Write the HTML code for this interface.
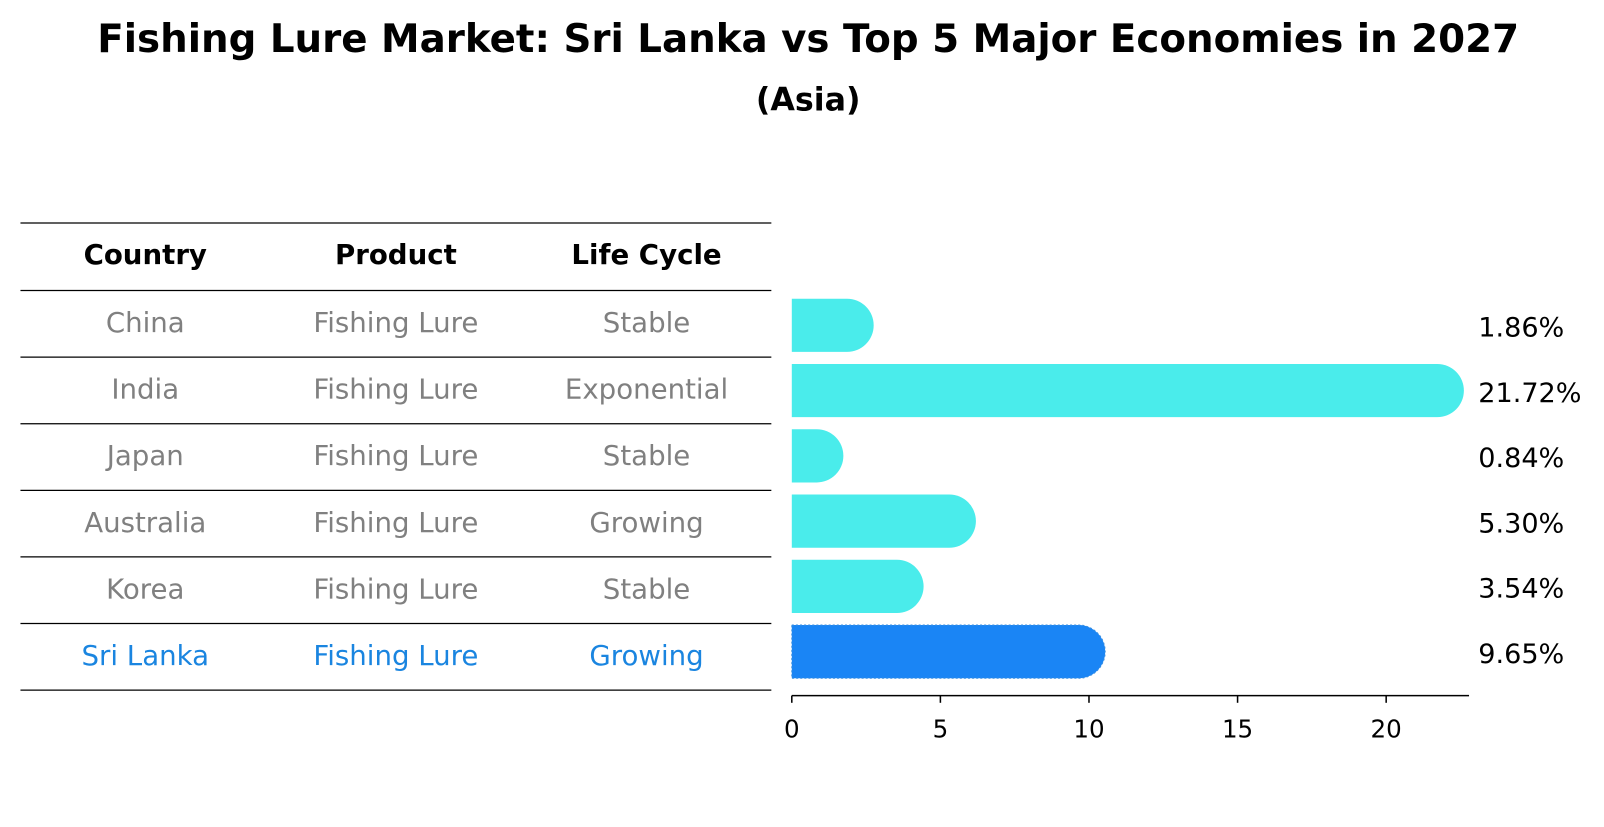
<!DOCTYPE html>
<html><head><meta charset="utf-8"><style>
body{margin:0;width:1604px;height:823px;background:#fff;overflow:hidden;font-family:"DejaVu Sans","Liberation Sans",sans-serif;}
</style></head><body>
<svg width="1604" height="823" xmlns="http://www.w3.org/2000/svg" font-family="DejaVu Sans, Liberation Sans, sans-serif">
<g transform="scale(1.023)">
<text x="790" y="51" text-anchor="middle" font-size="37.9" font-weight="bold">Fishing Lure Market: Sri Lanka vs Top 5 Major Economies in 2027</text>
<text x="790" y="108" text-anchor="middle" font-size="31" font-weight="bold">(Asia)</text>
<g id="table"></g>
<g id="bars"></g>
</g>
</svg>
<script>
const countries=["China","India","Japan","Australia","Korea","Sri Lanka"];
const products=["Fishing Lure","Fishing Lure","Fishing Lure","Fishing Lure","Fishing Lure","Fishing Lure"];
const lifeCycles=["Stable","Exponential","Stable","Growing","Stable","Growing"];
const values=[1.86,21.72,0.84,5.30,3.54,9.65];
const valueLabels=["1.86%","21.72%","0.84%","5.30%","3.54%","9.65%"];
const ticks=[0,5,10,15,20];
const NS="http://www.w3.org/2000/svg";
function mk(t,a,p){const e=document.createElementNS(NS,t);for(const k in a)e.setAttribute(k,a[k]);p.appendChild(e);return e;}
const x0=774,ppu=29.05;
const xs=v=>x0+v*ppu;
const rowTop=284,rowH=65.1;
const yc=i=>rowTop+rowH*(i+0.5);
const barY=i=>318+63.8*i;
const tbl=document.getElementById('table');
const colX=[142,387,632];
for(let i=0;i<=7;i++){const y=i==0?218:rowTop+rowH*(i-1);
 const l=mk('line',{x1:20,x2:754,y1:y,y2:y,stroke:'#000','stroke-width':1.2},tbl);
 
 }
["Country","Product","Life Cycle"].forEach((h,j)=>{const t=mk('text',{x:colX[j],y:258,'text-anchor':'middle','font-size':27,'font-weight':'bold'},tbl);t.textContent=h;
 
 });
countries.forEach((c,i)=>{const col=i==5?'#1a85e0':'#808080';
 [c,products[i],lifeCycles[i]].forEach((s,j)=>{const t=mk('text',{x:colX[j],y:yc(i)+8,'text-anchor':'middle','font-size':27,fill:col},tbl);t.textContent=s;
  
  });});
const g=document.getElementById('bars');
const bh=52,r=26;
values.forEach((v,i)=>{const y=barY(i)-bh/2;const xe=xs(v);const col=i==5?'#1a85f5':'#4aeceb';
 const p=mk('path',{d:`M${x0},${y} H${xe} A${r},${r} 0 0 1 ${xe},${y+bh} H${x0} Z`,fill:col},g);
 if(i==5){p.setAttribute('stroke','#3a8fe0');p.setAttribute('stroke-dasharray','2 2');p.setAttribute('stroke-width','1');}
 
 
 const t=mk('text',{x:1445,y:barY(i)+11,'font-size':26.5},g);t.textContent=valueLabels[i];
 
 });
const ax=mk('line',{x1:x0,x2:1436,y1:680,y2:680,stroke:'#000','stroke-width':1.5},g);


ticks.forEach(tv=>{const x=xs(tv);const tl=mk('line',{x1:x,x2:x,y1:680,y2:687,stroke:'#000','stroke-width':1.5},g);
 
 
 const t=mk('text',{x:x,y:721,'text-anchor':'middle','font-size':24},g);t.textContent=tv;
 
 });
</script>
</body></html>
